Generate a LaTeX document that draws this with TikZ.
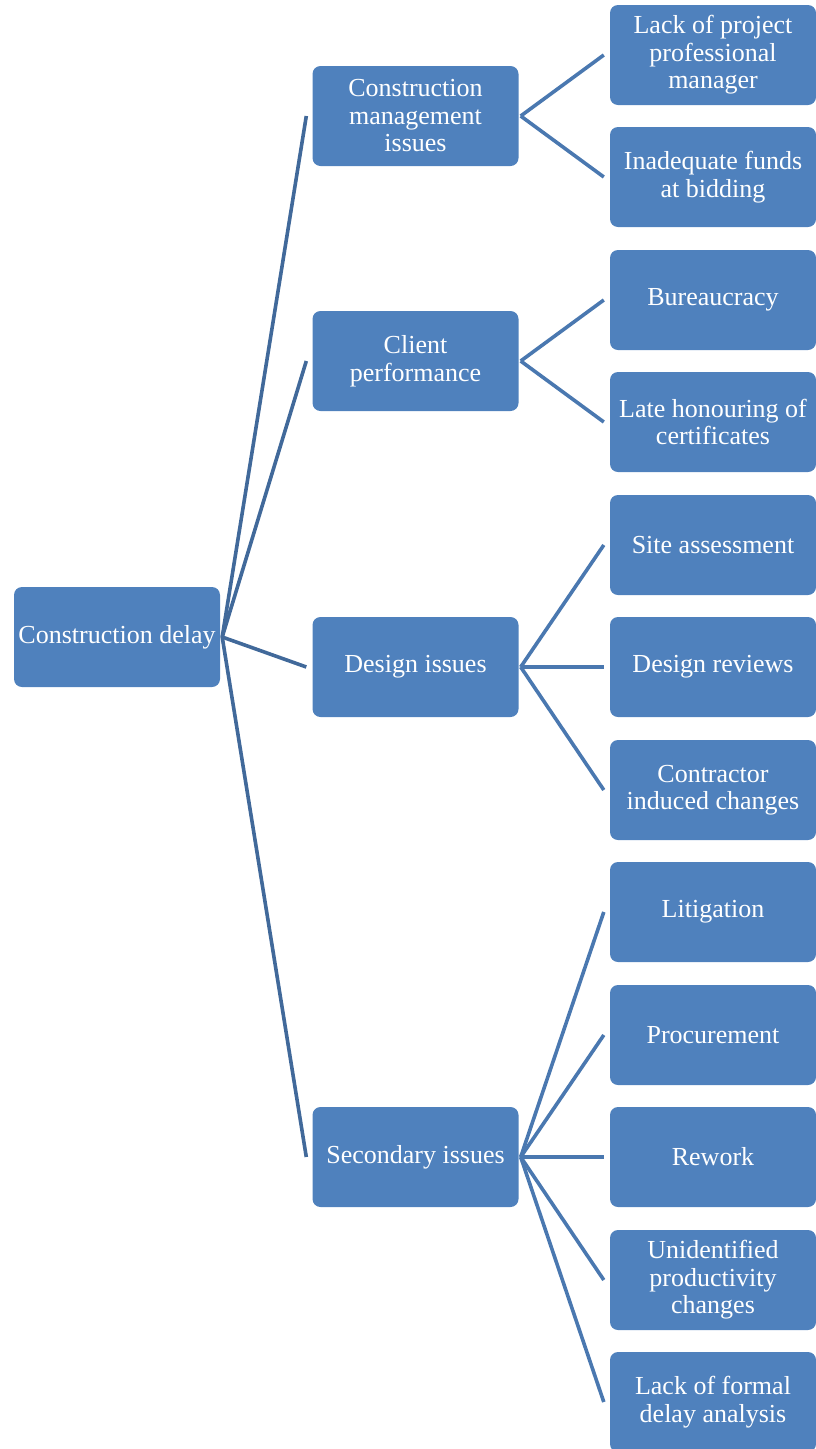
\documentclass[tikz,border=0pt]{standalone}
\usepackage{fontspec}
\setmainfont{Liberation Serif}
\definecolor{boxblue}{HTML}{4F81BD}
\definecolor{rootline}{HTML}{41699A}
\definecolor{subline}{HTML}{4A78B0}
\tikzset{
  topic/.style={draw=none, fill=boxblue, rounded corners=8pt, minimum width=206pt,
    minimum height=100pt, text=white, align=center, inner sep=2pt,
    font=\fontsize{26pt}{27.5pt}\selectfont},
  trunk/.style={draw=rootline, line width=3.6pt},
  twig/.style={draw=subline, line width=3.6pt}
}
\begin{document}
\begin{tikzpicture}[x=1pt,y=-1pt]
    \useasboundingbox (0,0) rectangle (816,1449);
    % root
    \node[topic] (delay) at (117,637) {Construction delay};
    % first level
    \node[topic] (mgmt) at (415.5,116) {Construction\\management\\issues};
    \node[topic] (client) at (415.5,361) {Client\\performance};
    \node[topic] (design) at (415.5,667) {Design issues};
    \node[topic] (second) at (415.5,1157) {Secondary issues};
    % second level
    \node[topic] (manager) at (713,55) {Lack of project\\professional\\manager};
    \node[topic] (funds) at (713,177) {Inadequate funds\\at bidding};
    \node[topic] (bureau) at (713,300) {Bureaucracy};
    \node[topic] (honour) at (713,422) {Late honouring of\\certificates};
    \node[topic] (site) at (713,545) {Site assessment};
    \node[topic] (review) at (713,667) {Design reviews};
    \node[topic] (induced) at (713,790) {Contractor\\induced changes};
    \node[topic] (litig) at (713,912) {Litigation};
    \node[topic] (procure) at (713,1035) {Procurement};
    \node[topic] (rework) at (713,1157) {Rework};
    \node[topic] (product) at (713,1280) {Unidentified\\productivity\\changes};
    \node[topic] (formal) at (713,1402) {Lack of formal\\delay analysis};
    % connectors
    \foreach \t in {mgmt,client,design,second}
      \draw[trunk] ([xshift=2pt]delay.east) -- ([xshift=-6pt]\t.west);
    \foreach \t in {manager,funds}
      \draw[twig] ([xshift=2pt]mgmt.east) -- ([xshift=-6pt]\t.west);
    \foreach \t in {bureau,honour}
      \draw[twig] ([xshift=2pt]client.east) -- ([xshift=-6pt]\t.west);
    \foreach \t in {site,review,induced}
      \draw[twig] ([xshift=2pt]design.east) -- ([xshift=-6pt]\t.west);
    \foreach \t in {litig,procure,rework,product,formal}
      \draw[twig] ([xshift=2pt]second.east) -- ([xshift=-6pt]\t.west);
\end{tikzpicture}
\end{document}
